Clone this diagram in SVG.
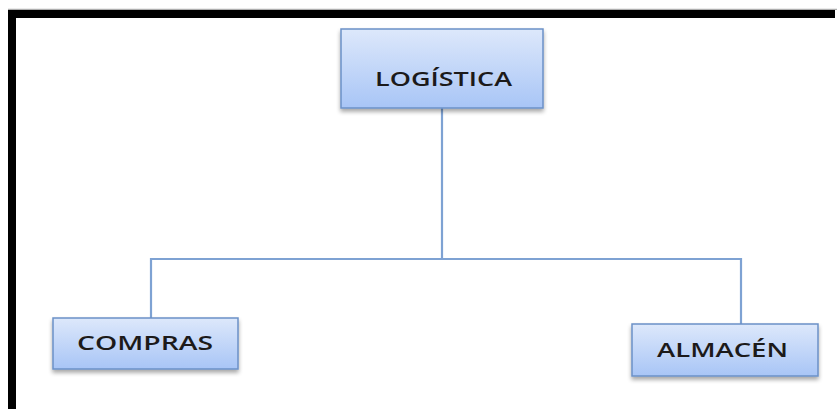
<svg xmlns="http://www.w3.org/2000/svg" width="837" height="409" viewBox="0 0 837 409">
<defs>
<linearGradient id="g" x1="0" y1="0" x2="0" y2="1">
<stop offset="0" stop-color="#dde8fb"/>
<stop offset="1" stop-color="#a8c5f6"/>
</linearGradient>
<filter id="sh" x="-10%" y="-10%" width="120%" height="140%">
<feGaussianBlur in="SourceAlpha" stdDeviation="2"/>
<feOffset dx="0" dy="3" result="b"/>
<feComponentTransfer><feFuncA type="linear" slope="0.35"/></feComponentTransfer>
<feMerge><feMergeNode/><feMergeNode in="SourceGraphic"/></feMerge>
</filter>
</defs>
<style>
.box{fill:url(#g);stroke:#6b91c7;stroke-width:1.5;filter:url(#sh)}
.lbl{font-family:"Open Sans","Liberation Sans",sans-serif;font-size:19px;font-weight:600;fill:#1c1a1a}
.con{fill:none;stroke:#7ea2d3;stroke-width:2.2}
</style>
<rect width="837" height="409" fill="#ffffff"/>
<line x1="8" y1="9.3" x2="837" y2="9.3" stroke="#9a9a9a" stroke-width="1"/>
<path d="M12 409 V14 H835" fill="none" stroke="#000" stroke-width="8"/>
<g id="connectors">
<path class="con" d="M442 108 V259"/>
<path class="con" d="M151 318 V259 H741 V324"/>
</g>
<g id="logistica">
<rect class="box" x="341" y="29" width="202" height="79"/>
<text class="lbl" x="375" y="86" textLength="137" lengthAdjust="spacingAndGlyphs">LOGÍSTICA</text>
</g>
<g id="compras">
<rect class="box" x="53" y="318" width="185" height="51"/>
<text class="lbl" x="77" y="350" textLength="136" lengthAdjust="spacingAndGlyphs">COMPRAS</text>
</g>
<g id="almacen">
<rect class="box" x="632" y="324" width="186" height="52"/>
<text class="lbl" x="657" y="357" textLength="131" lengthAdjust="spacingAndGlyphs">ALMACÉN</text>
</g>
</svg>
